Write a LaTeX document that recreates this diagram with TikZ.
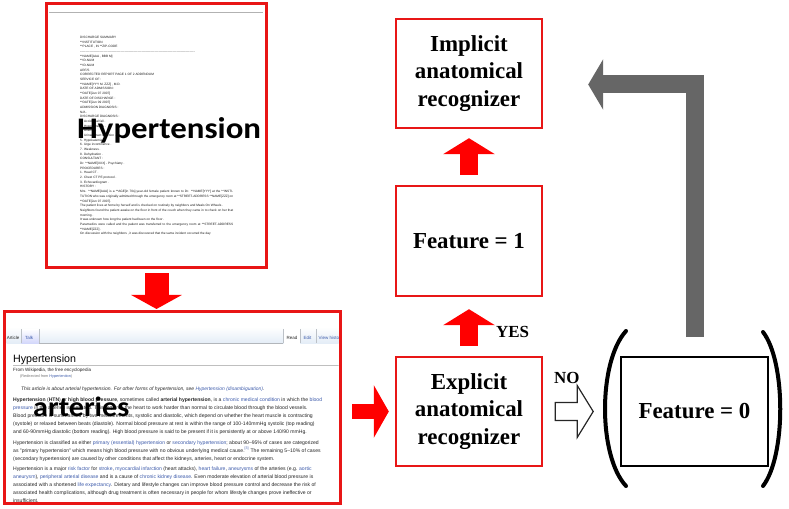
\documentclass[tikz,border=0pt]{standalone}
\usepackage{fontspec}
\setmainfont{Liberation Serif}
\newfontfamily\wikifont{Liberation Sans}
\newfontfamily\tagfont{Carlito}
\usetikzlibrary{arrows.meta,positioning}
\definecolor{boxred}{RGB}{232,22,22}
\definecolor{arrowred}{RGB}{255,0,0}
\definecolor{backgray}{RGB}{102,102,102}
\definecolor{wikiblue}{RGB}{60,90,170}
\definecolor{tabblue}{RGB}{228,237,247}
\newcommand{\wl}[1]{\textcolor{wikiblue}{#1}}

\begin{document}
\begin{tikzpicture}[x=1bp,y=-1bp,
    redbox/.style={draw=boxred, line width=2.4bp, minimum width=146bp, minimum height=109bp,
      align=center, font=\bfseries\fontsize{23}{27.5}\selectfont},
    zerobox/.style={redbox, draw=black, line width=1.8bp, minimum width=147bp},
    panel/.style={draw=boxred, line width=3bp},
    redarrow/.style n args={3}{arrowred, line width=#1, -{Triangle[width=#2,length=#3]}},
    backarrow/.style={backgray, line width=18bp, line join=miter, -{Triangle[width=50bp,length=15bp]}},
    yesno/.style={font=\bfseries\fontsize{17}{20}\selectfont, inner sep=0pt},
    tag/.style={font=\tagfont\bfseries\fontsize{30}{30}\selectfont, inner sep=0pt, anchor=base west},
    doc/.style={font=\wikifont\fontsize{3.2}{4.67}\selectfont, text=black!90, inner sep=0pt},
    wk/.style={font=\wikifont\fontsize{5.1}{6}\selectfont, text=black!85, inner sep=0pt, anchor=base west},
  ]
  \useasboundingbox (0,0) rectangle (789,509);

  % discharge summary page
  \draw[black!30, line width=0.6bp] (49,12) -- (263,12);
  \foreach \t [count=\i from 0] in {{DISCHARGE SUMMARY}, {**INSTITUTION}, {**PLACE , IN **ZIP-CODE},
      {\hbox to 115bp{\leaders\hbox{-}\hfill}}, {**NAME[AAA , BBB M]}, {**ID-NUM}, {**ID-NUM}, {ARF/S},
      {CORRECTED REPORT PAGE 1 OF 2 ADDENDUM}, {SERVICE OF :}, {**NAME[YYY M. ZZZ] , M.D.},
      {DATE OF ADMISSION :}, {**DATE[Jun 07 2007]}, {DATE OF DISCHARGE :}, {**DATE[Jun 09 2007]},
      {ADMISSION DIAGNOSIS :}, {N/A .}, {DISCHARGE DIAGNOSIS :}, {1. Accidental fall .},
      {2. Hyponatremia .}, {3. Anemia .}, {4. Urinary tract infection .}, {5. Hypokalemia .},
      {6. Urge incontinence .}, {7. Weakness .}, {8. Dehydration .}, {CONSULTANT :},
      {Dr. **NAME[XXX] - Psychiatry .}, {PROCEDURES :}, {1. Head CT .}, {2. Chest CT PE protocol .},
      {3. Echocardiogram .}, {HISTORY :}}
    \node[doc, anchor=base west] at (80,{38.5+4.67*\i}) {\t};
  \node[doc, anchor=north west, text width=153bp, align=justify] (history) at (80,190.3) {%
    Mrs. **NAME[AAA] is a **AGE[in 70s]-year-old female patient known to Dr. **NAME[YYY] at the
    **INSTITUTION who was originally admitted through the emergency room at **STREET-ADDRESS
    **NAME[ZZZ] on **DATE[Jun 07 2007].\par
    The patient lives at home by herself and is checked on routinely by neighbors and Meals On
    Wheels .\par
    Neighbors found the patient awake on the floor in front of the couch when they came in to check
    on her that morning .\par
    It was unknown how long the patient had been on the floor .\par
    Paramedics were called and the patient was transferred to the emergency room at
    **STREET-ADDRESS **NAME[ZZZ] .\par
    On discussion with the neighbors , it was discovered that the same incident occurred the day};
  \node[tag] (word1) at (77,139) {\scalebox{1.1}[1]{Hypertension}};

  % wikipedia page
  \begin{scope}
    \clip (6.5,313.5) rectangle (338.5,501.5);
    \shade[top color=white, bottom color=tabblue] (5,327) rectangle (340,343);
    \shade[top color=white, bottom color=tabblue!80!blue!60] (21,329) rectangle (39,343);
    \fill[white] (283.5,327) rectangle (299.5,343.5);
    \draw[tabblue!50!gray, line width=0.4bp] (39,343) -- (283,343);
    \foreach \x in {21,39,283,300,316}
      \draw[tabblue!60!gray, line width=0.4bp] (\x,329) -- (\x,343);
    \node[wk, font=\wikifont\fontsize{4.5}{5}\selectfont, anchor=base east] at (19.5,339) {Article};
    \node[wk, font=\wikifont\fontsize{4.5}{5}\selectfont, text=wikiblue] at (25,339) {Talk};
    \node[wk, font=\wikifont\fontsize{4.5}{5}\selectfont] at (286.5,339) {Read};
    \node[wk, font=\wikifont\fontsize{4.5}{5}\selectfont, text=wikiblue] at (303.5,339) {Edit};
    \node[wk, font=\wikifont\fontsize{4.5}{5}\selectfont, text=wikiblue] at (318.5,339) {View history};
    \node[wk, font=\wikifont\fontsize{10.7}{12}\selectfont, text=black] (title) at (13,362) {Hypertension};
    \draw[black!25, line width=0.5bp] (13,364.8) -- (340,364.8);
    \node[wk, font=\wikifont\fontsize{4.6}{5}\selectfont] at (13,371) {From Wikipedia, the free encyclopedia};
    \node[wk, font=\wikifont\fontsize{3.8}{4}\selectfont, text=black!55] at (20,377.8)
      {(Redirected from \wl{Hypertention})};
    \node[wk, font=\wikifont\itshape\fontsize{5}{6}\selectfont] at (21,390.6)
      {This article is about arterial hypertension. For other forms of hypertension, see
       \wl{Hypertension (disambiguation)}.};
    \foreach \y/\t in {
        401.5/{\textbf{Hypertension} (\textbf{HTN}) or \textbf{high blood pressure}, sometimes called \textbf{arterial hypertension}, is a \wl{chronic medical condition} in which the \wl{blood}},
        409.6/{\wl{pressure} in the arteries is elevated. This requires the heart to work harder than normal to circulate blood through the blood vessels.},
        417.7/{Blood pressure is summarised by two measurements, systolic and diastolic, which depend on whether the heart muscle is contracting},
        425.8/{(systole) or relaxed between beats (diastole). Normal blood pressure at rest is within the range of 100-140mmHg systolic (top reading)},
        433.6/{and 60-90mmHg diastolic (bottom reading). High blood pressure is said to be present if it is persistently at or above 140/90 mmHg.},
        444/{Hypertension is classified as either \wl{primary (essential) hypertension} or \wl{secondary hypertension}; about 90–95\% of cases are categorized},
        452/{as "primary hypertension" which means high blood pressure with no obvious underlying medical cause.\textsuperscript{\wl{[3]}} The remaining 5–10\% of cases},
        460/{(secondary hypertension) are caused by other conditions that affect the kidneys, arteries, heart or endocrine system.},
        470.5/{Hypertension is a major \wl{risk factor} for \wl{stroke}, \wl{myocardial infarction} (heart attacks), \wl{heart failure}, \wl{aneurysms} of the arteries (e.g. \wl{aortic}},
        478.5/{\wl{aneurysm}), \wl{peripheral arterial disease} and is a cause of \wl{chronic kidney disease}. Even moderate elevation of arterial blood pressure is},
        486.5/{associated with a shortened \wl{life expectancy}. Dietary and lifestyle changes can improve blood pressure control and decrease the risk of},
        494.5/{associated health complications, although drug treatment is often necessary in people for whom lifestyle changes prove ineffective or},
        502.5/{insufficient.}}
      \node[wk] at (13,\y) {\t};
  \end{scope}
  \node[tag, font=\tagfont\bfseries\fontsize{28}{28}\selectfont] (word2) at (33,416) {\scalebox{1.08}[1]{arteries}};

  % panels and boxes
  \node[panel, minimum width=219bp, minimum height=263bp] (record) at (156.5,135.5) {};
  \node[panel, minimum width=335bp, minimum height=191bp] (wiki) at (172.5,407.5) {};
  \node[redbox] (implicit) at (469,73.5) {Implicit\\anatomical\\recognizer};
  \node[redbox, minimum height=110bp] (featone) at (469,241) {Feature = 1};
  \node[redbox] (explicit) at (469,411.5) {Explicit\\anatomical\\recognizer};
  \node[zerobox] (featzero) at (694.5,411.5) {Feature = 0};

  % arrows
  \draw[redarrow={24bp}{50bp}{14bp}, shorten <=4.5bp, shorten >=1.5bp] (record.south) -- (record.south |- wiki.north);
  \draw[redarrow={15bp}{52bp}{15bp}, shorten <=10.5bp, shorten >=6bp] (wiki.east |- explicit.west) -- (explicit.west);
  \draw[redarrow={18bp}{51bp}{16bp}, shorten <=10bp, shorten >=12bp] (explicit.north) -- (featone.south);
  \draw[redarrow={18bp}{51bp}{16bp}, shorten <=10bp, shorten >=9bp] (featone.north) -- (implicit.south);
  \draw[backarrow] ([yshift=19bp]featzero.north) |- ([xshift=45bp,yshift=-11bp]implicit.east);
  \coordinate (nostart) at ([xshift=12bp]explicit.east);
  \draw[black!85, line width=1.2bp, fill=white] ([yshift=9bp]nostart) -- ++(22,0) -- ++(0,-17)
    -- ++(16,26) -- ++(-16,26) -- ++(0,-17) -- ++(-22,0) -- cycle;
  \node[yesno, anchor=base west] (yes) at (496,337) {YES};
  \node[yesno, anchor=base west] (no) at (554,383) {NO};

  % brackets round feature = 0
  \draw[line width=4bp, line cap=round] (626,331) .. controls (598,362) and (598,456) .. (626,486);
  \draw[line width=4bp, line cap=round] (763,332) .. controls (786,362) and (786,456) .. (763,486);
\end{tikzpicture}
\end{document}
